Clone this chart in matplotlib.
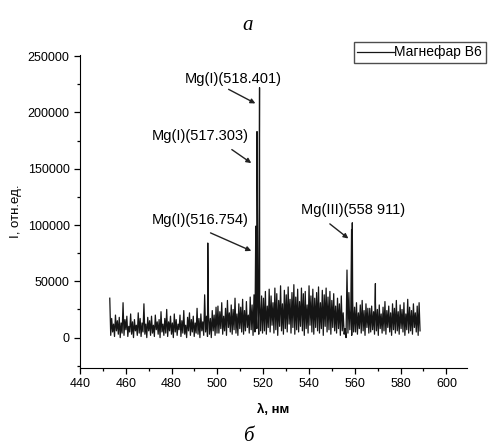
import numpy as np
import matplotlib.pyplot as plt
from matplotlib.ticker import MultipleLocator

# spectrum background, thousands of rel. units, evenly spread over 453..588.5 nm
noise_k = [
    # 453-500
    35, 2, 17, 5, 12, 1, 20, 6, 15, 3, 18, 0, 13, 4, 31, 2, 16, 7, 19, 1,
    10, 5, 21, 3, 14, 0, 16, 6, 11, 2, 22, 4, 17, 1, 13, 5, 30, 3, 12, 0,
    18, 6, 15, 2, 19, 4, 11, 1, 20, 7, 14, 3, 16, 0, 23, 5, 12, 2, 17, 4,
    25, 1, 14, 6, 19, 3, 13, 0, 21, 5, 16, 2, 12, 7, 20, 1, 15, 4, 24, 3,
    11, 0, 18, 6, 22, 2, 16, 5, 19, 1, 13, 4, 26, 3, 17, 0, 21, 6, 14, 2,
    38, 5, 19, 1, 22, 3, 17, 0, 24, 6, 20, 2, 27, 4,
    # 500-520
    28, 4, 23, 8, 31, 3, 19, 6, 26, 2, 33, 9, 22, 5, 29, 3, 25, 7, 35, 4,
    21, 2, 30, 8, 27, 5, 34, 3, 24, 6, 32, 9, 20, 4, 36, 7, 29, 2, 38, 5,
    26, 8, 40, 3, 33, 6, 37, 4,
    # 520-555
    35, 6, 41, 3, 28, 9, 43, 5, 37, 11, 31, 4, 44, 7, 39, 2, 33, 10, 46, 6,
    30, 3, 42, 8, 38, 5, 45, 12, 34, 4, 40, 9, 47, 3, 36, 7, 43, 5, 32, 10,
    44, 6, 39, 2, 41, 8, 29, 4, 46, 11, 37, 5, 43, 3, 35, 9, 40, 6, 45, 4,
    31, 8, 42, 2, 38, 10, 44, 5, 36, 7, 41, 3, 33, 9, 39, 6, 28, 4, 35, 8,
    30, 2, 37, 6,
    # 555-560
    22, 3, 8, 0, 60, 4, 40, 7, 25, 2, 33, 5,
    # 560-588.5
    27, 5, 31, 3, 22, 8, 29, 4, 33, 6, 24, 2, 30, 9, 26, 4, 26, 5, 28, 7,
    23, 3, 31, 6, 25, 2, 29, 8, 21, 4, 27, 6, 32, 3, 24, 9, 28, 5, 22, 2,
    30, 7, 26, 4, 33, 6, 23, 3, 29, 8, 25, 5, 31, 2, 21, 7, 34, 4, 27, 6,
    24, 3, 30, 9, 22, 5, 28, 2, 31, 6,
]
wl_start, wl_end = 453.0, 588.5

# emission lines
peak_wl = [495.8, 516.754, 517.303, 518.401, 558.6, 558.911, 569.0]
peak_I = [84000, 99000, 183000, 222000, 96000, 102000, 48000]

labels = ["Mg(I)(518.401)", "Mg(I)(517.303)", "Mg(I)(516.754)", "Mg(III)(558 911)"]
# label placement: text centre, arrow start, arrow tip (data units)
text_xy = [(506.8, 230000), (492.4, 179000), (492.4, 104500), (559.2, 113500)]
arrow_from = [(504.9, 220500), (506.3, 167000), (497.0, 93000), (549.1, 101000)]
arrow_to = [(516.6, 208000), (514.8, 155000), (514.8, 77000), (557.2, 88000)]

wl = np.concatenate([np.linspace(wl_start, wl_end, len(noise_k)), peak_wl])
inten = np.concatenate([np.array(noise_k) * 1000.0, peak_I])
order = np.argsort(wl)
wl, inten = wl[order], inten[order]

plt.rcParams['font.family'] = ['Liberation Sans', 'DejaVu Sans']

fig = plt.figure(figsize=(4.96, 4.48), dpi=100)
ax = fig.add_axes([80 / 496, 1 - 368 / 448, 387 / 496, 313 / 448])

line, = ax.plot(wl, inten, color='#151515', lw=0.9, label='Магнефар В6')

ax.set_xlim(440, 609)
ax.set_ylim(-27000, 251000)
ax.xaxis.set_major_locator(MultipleLocator(20))
ax.xaxis.set_minor_locator(MultipleLocator(10))
ax.yaxis.set_major_locator(MultipleLocator(50000))
ax.yaxis.set_minor_locator(MultipleLocator(25000))
ax.tick_params(which='both', direction='out', labelsize=9, width=0.9)
ax.tick_params(which='major', length=4)
ax.tick_params(which='minor', length=2.5)
for s in ['top', 'right']:
    ax.spines[s].set_visible(False)

for txt, (tx, ty), a0, a1 in zip(labels, text_xy, arrow_from, arrow_to):
    ax.text(tx, ty, txt, fontsize=10.5, ha='center', va='center')
    ax.annotate('', xy=a1, xytext=a0,
                arrowprops=dict(arrowstyle='-|>', color='#222222', lw=1.0,
                                mutation_scale=7, shrinkA=0, shrinkB=0))

ax.set_xlabel('λ, нм', fontsize=9.5, fontweight='bold', labelpad=10)
ax.set_ylabel('I, отн.ед.', fontsize=9.5, labelpad=4)

fig.legend(handles=[line], loc='upper left', bbox_to_anchor=(354 / 496, 1 - 42 / 448),
           fontsize=10, frameon=True, fancybox=False, edgecolor='#222222',
           handlelength=2.6, borderpad=0.25, handletextpad=0.05, borderaxespad=0)

fig.text(0.5, 1 - 25 / 448, 'а', ha='center', va='center', fontsize=15,
         style='italic', family='Liberation Serif')
fig.text(0.5, 1 - 436 / 448, 'б', ha='center', va='center', fontsize=15,
         style='italic', family='Liberation Serif')

fig.savefig('out.png', dpi=100)
